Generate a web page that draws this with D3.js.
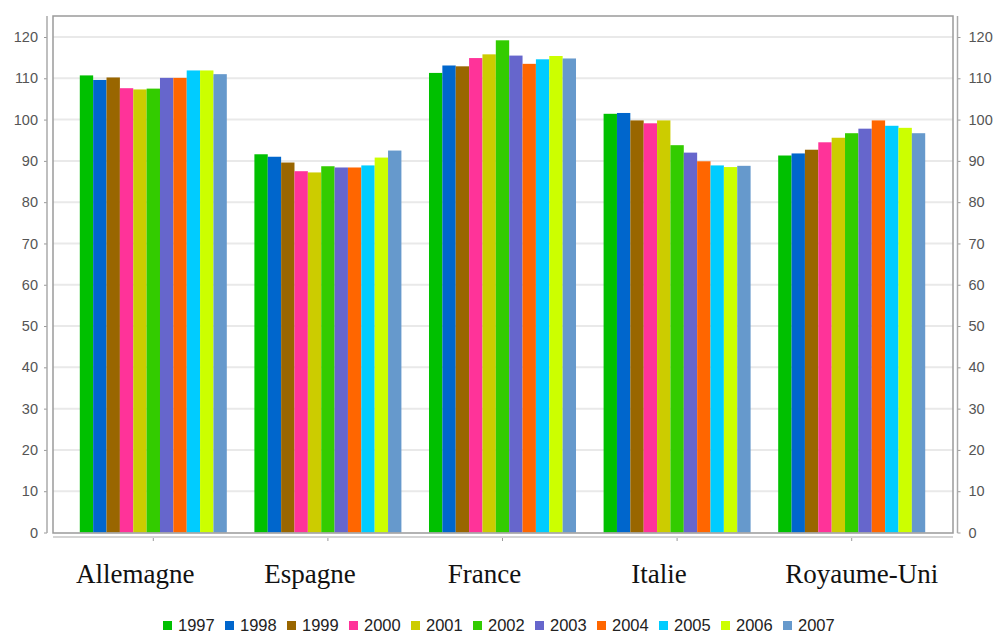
<!DOCTYPE html>
<html>
<head>
<meta charset="utf-8">
<script src="https://cdn.jsdelivr.net/npm/d3@7"></script>
<style>
  html, body { margin: 0; padding: 0; background: #fff; }
  svg { display: block; }
  .tick text { font-family: "Liberation Sans", Arial, sans-serif; font-size: 14.5px; fill: #555; }
</style>
</head>
<body>
<svg id="chart" width="997" height="634"></svg>
<script>
// Index values per country, one array per year
const countries = ["Allemagne", "Espagne", "France", "Italie", "Royaume-Uni"];
const years = ["1997", "1998", "1999", "2000", "2001", "2002", "2003", "2004", "2005", "2006", "2007"];
const colors = ["#00c000", "#0066cc", "#996600", "#ff3399", "#cccc00", "#33cc00", "#6666cc", "#ff6600", "#00ccff", "#ccff00", "#6699cc"];
const v1997 = [110.7, 91.6, 111.3, 101.4, 91.3];
const v1998 = [109.6, 91.0, 113.1, 101.6, 91.8];
const v1999 = [110.2, 89.6, 112.9, 99.8, 92.7];
const v2000 = [107.6, 87.5, 114.9, 99.1, 94.5];
const v2001 = [107.3, 87.2, 115.8, 99.8, 95.6];
const v2002 = [107.5, 88.7, 119.2, 93.8, 96.7];
const v2003 = [110.1, 88.4, 115.5, 92.0, 97.8];
const v2004 = [110.1, 88.4, 113.5, 89.9, 99.8];
const v2005 = [111.9, 88.9, 114.6, 88.9, 98.5];
const v2006 = [111.9, 90.8, 115.4, 88.5, 98.0];
const v2007 = [111.0, 92.5, 114.8, 88.8, 96.7];
const yTicks = [0, 10, 20, 30, 40, 50, 60, 70, 80, 90, 100, 110, 120];

const series = [v1997, v1998, v1999, v2000, v2001, v2002, v2003, v2004, v2005, v2006, v2007];
const rows = countries.map((c, i) => ({ country: c, values: years.map((yr, j) => ({ year: yr, value: series[j][i] })) }));

const svg = d3.select("#chart");
const frame = { left: 53, right: 953, top: 16, bottom: 533 };

const y = d3.scaleLinear().domain([0, 120]).range([532.5, 37]);
const x0 = d3.scaleBand().domain(countries).range([66, 939]).paddingInner(0.158).paddingOuter(0.079);
const x1 = d3.scaleBand().domain(years).range([0, x0.bandwidth()]).padding(0);
const color = d3.scaleOrdinal().domain(years).range(colors);

// Horizontal gridlines
svg.append("g").selectAll("line").data(yTicks.slice(1)).join("line")
  .attr("x1", frame.left).attr("x2", frame.right)
  .attr("y1", d => y(d)).attr("y2", d => y(d))
  .attr("stroke", "#e9e9e9").attr("stroke-width", 2);

// Bars
svg.append("g").selectAll("g").data(rows).join("g")
  .attr("transform", d => `translate(${x0(d.country)},0)`)
  .selectAll("rect").data(d => d.values).join("rect")
  .attr("x", d => x1(d.year))
  .attr("width", x1.bandwidth())
  .attr("y", d => y(d.value))
  .attr("height", d => y(0) - y(d.value))
  .attr("fill", d => color(d.year));

// Plot frame
svg.append("rect")
  .attr("x", frame.left).attr("y", frame.top)
  .attr("width", frame.right - frame.left).attr("height", frame.bottom - frame.top)
  .attr("fill", "none").attr("stroke", "#9a9a9a").attr("stroke-width", 1.5);

// Left axis
const leftAxis = svg.append("g").attr("transform", "translate(47,0)")
  .call(d3.axisLeft(y).tickValues(yTicks).tickSize(3).tickPadding(6).tickSizeOuter(0));
leftAxis.select(".domain").remove();
leftAxis.selectAll(".tick line").attr("stroke", "#999");
leftAxis.append("line").attr("x1", 0).attr("x2", 0).attr("y1", frame.top).attr("y2", frame.bottom)
  .attr("stroke", "#aaa").attr("stroke-width", 1.5);

// Right axis
const rightAxis = svg.append("g").attr("transform", "translate(957.5,0)")
  .call(d3.axisRight(y).tickValues(yTicks).tickSize(3).tickPadding(8).tickSizeOuter(0));
rightAxis.select(".domain").remove();
rightAxis.selectAll(".tick line").attr("stroke", "#999");
rightAxis.append("line").attr("x1", 0).attr("x2", 0).attr("y1", frame.top).attr("y2", frame.bottom)
  .attr("stroke", "#aaa").attr("stroke-width", 1.5);

// Bottom axis
const bottom = svg.append("g").attr("transform", "translate(0,537)");
bottom.append("line").attr("x1", frame.left).attr("x2", frame.right)
  .attr("stroke", "#d4d4d4").attr("stroke-width", 2);
bottom.selectAll("line.tk").data(countries).join("line").attr("class", "tk")
  .attr("x1", d => x0(d) + x0.bandwidth() / 2).attr("x2", d => x0(d) + x0.bandwidth() / 2)
  .attr("y1", 1).attr("y2", 4).attr("stroke", "#999");

// Country names
svg.append("g").selectAll("text").data(countries).join("text")
  .attr("x", (d, i) => x0(d) + x0.bandwidth() / 2 + (i === countries.length - 1 ? 10 : -18))
  .attr("y", 583)
  .attr("text-anchor", "middle")
  .attr("font-family", "'Liberation Serif', 'Times New Roman', serif")
  .attr("font-size", 27)
  .attr("fill", "#111")
  .text(d => d);

// Legend
const legend = svg.append("g").attr("transform", "translate(163,0)");
const item = legend.selectAll("g").data(years).join("g")
  .attr("transform", (d, i) => `translate(${i * 62},0)`);
item.append("rect").attr("x", 0).attr("y", 621).attr("width", 9).attr("height", 9)
  .attr("fill", d => color(d));
item.append("text").attr("x", 15).attr("y", 631)
  .attr("font-family", "'Liberation Sans', Arial, sans-serif")
  .attr("font-size", 16.5)
  .attr("fill", "#222")
  .text(d => d);
</script>
</body>
</html>
